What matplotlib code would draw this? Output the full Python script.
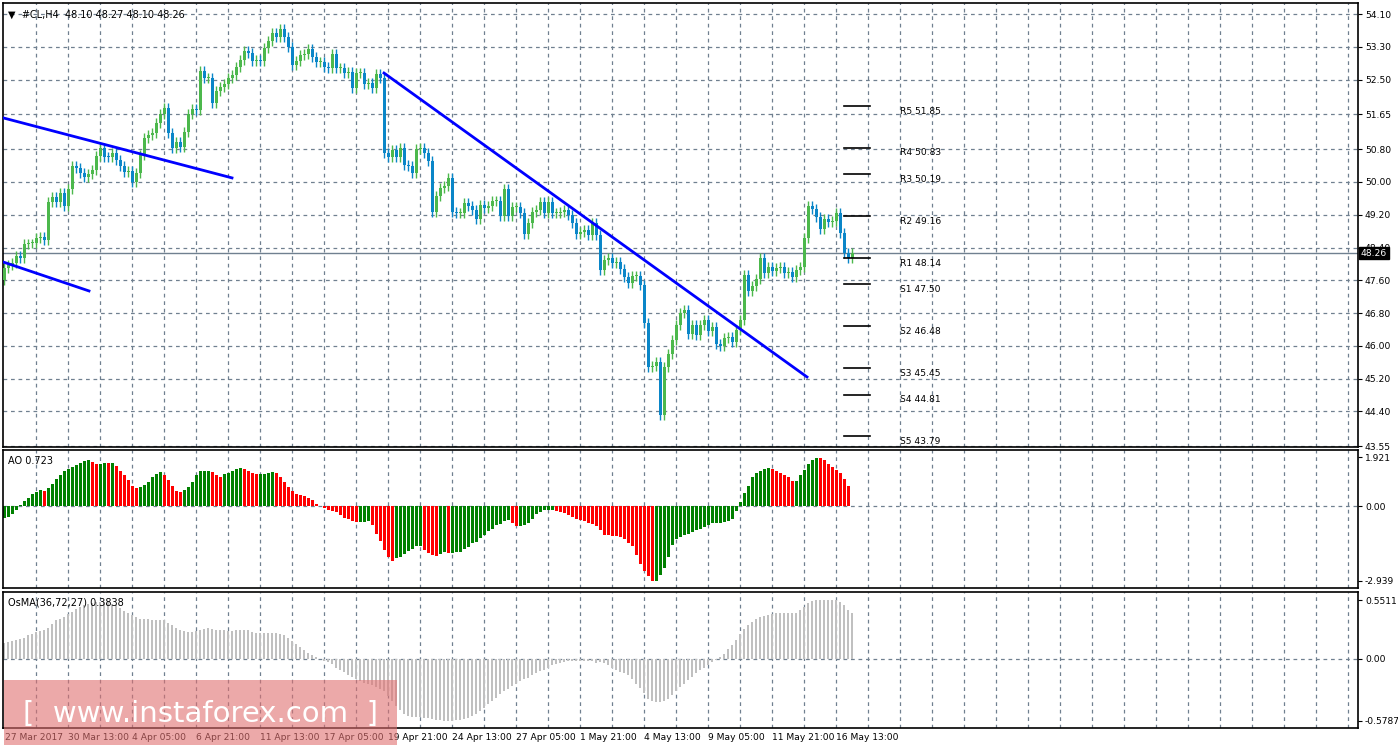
import matplotlib
matplotlib.use("Agg")
import matplotlib.pyplot as plt
import numpy as np
from matplotlib.patches import Rectangle

plt.rcParams['font.family'] = ['DejaVu Sans']

closes = [47.90,47.97,48.02,48.19,48.14,48.48,48.50,48.50,48.63,48.65,48.58,49.51,49.63,49.51,49.73,49.41,49.83,50.39,50.34,50.22,
50.12,50.19,50.29,50.63,50.83,50.61,50.60,50.70,50.53,50.39,50.24,50.27,50.00,50.22,50.66,51.07,51.15,51.20,51.44,51.66,
51.80,51.20,50.83,50.97,50.85,51.22,51.66,51.78,51.76,52.71,52.54,52.54,51.93,52.22,52.32,
52.39,52.54,52.61,52.81,52.98,53.20,53.15,52.95,52.98,52.95,53.27,53.44,53.63,53.54,53.73,53.54,53.29,52.85,52.95,53.10,
53.12,53.24,53.05,52.93,52.93,52.81,52.78,53.12,52.78,52.78,52.66,52.68,52.29,52.66,52.66,52.39,52.42,52.29,52.63,52.54,
50.70,50.61,50.78,50.61,50.83,50.41,50.39,50.22,50.80,50.83,50.71,50.51,
49.26,49.65,49.85,49.90,50.09,49.26,49.24,49.24,49.48,49.41,49.31,49.09,49.44,49.36,49.41,49.53,49.53,49.17,49.83,49.17,
49.39,49.39,49.24,48.73,49.00,49.26,49.31,49.51,49.24,49.51,49.24,49.24,49.26,49.31,49.19,48.99,48.73,48.78,48.83,48.70,
48.99,48.70,47.85,48.09,48.14,48.02,48.04,47.87,47.68,47.53,47.70,47.70,47.48,
46.55,45.48,45.50,45.60,44.31,45.48,45.80,46.14,46.50,46.80,46.87,46.29,46.50,46.26,46.50,46.63,46.36,46.46,46.04,45.99,
46.19,46.21,46.09,46.38,46.63,47.73,47.34,47.46,47.63,48.14,47.78,47.92,47.83,47.90,47.92,47.78,47.80,47.68,47.85,47.92,
48.63,49.41,49.34,49.14,48.85,49.09,49.02,49.04,49.24,48.75,48.26,48.14,48.26]
first_open = 47.60

ao = [-0.48,-0.42,-0.31,-0.16,0.04,0.20,0.33,0.46,0.56,0.63,0.60,0.72,0.88,1.05,1.20,1.36,1.44,1.54,1.62,1.70,
1.76,1.80,1.73,1.65,1.65,1.70,1.67,1.67,1.57,1.39,1.22,1.02,0.80,0.72,0.76,0.84,0.95,1.12,1.25,1.33,
1.20,1.02,0.80,0.60,0.54,0.63,0.76,0.95,1.22,1.37,1.37,1.39,1.33,1.22,1.15,1.25,1.31,1.36,1.44,1.49,
1.44,1.39,1.31,1.25,1.25,1.25,1.28,1.33,1.31,1.15,0.95,0.76,0.59,0.48,
0.43,0.39,0.31,0.24,0.08,0.01,-0.07,-0.16,-0.20,-0.24,-0.35,-0.47,-0.51,-0.59,-0.63,-0.63,-0.63,-0.59,-0.75,-1.10,
-1.36,-1.73,-2.00,-2.16,-2.03,-2.00,-1.88,-1.76,-1.67,-1.57,-1.57,-1.73,-1.84,-1.92,-1.96,-1.88,-1.80,-1.84,-1.84,-1.80,
-1.80,-1.69,-1.61,-1.45,-1.41,-1.25,-1.14,-0.98,-0.90,-0.75,-0.71,-0.59,-0.55,-0.67,-0.78,-0.78,-0.75,-0.67,-0.51,-0.31,
-0.24,-0.16,-0.16,-0.16,-0.20,-0.24,-0.27,-0.35,-0.43,-0.51,-0.55,-0.60,
-0.66,-0.72,-0.79,-0.95,-1.12,-1.14,-1.17,-1.18,-1.21,-1.28,-1.45,-1.58,-1.93,-2.29,-2.55,-2.76,-2.94,-2.94,-2.70,-2.45,
-2.00,-1.54,-1.30,-1.21,-1.14,-1.08,-1.01,-0.95,-0.90,-0.84,-0.75,-0.66,-0.66,-0.66,-0.63,-0.58,-0.50,-0.18,0.16,0.50,0.79,1.12,
1.29,1.36,1.45,1.49,1.45,1.36,1.29,1.20,1.12,1.00,1.00,1.20,1.42,1.66,1.82,1.90,1.88,1.79,1.66,1.55,1.42,1.29,1.07,0.79]

osma = [0.15,0.16,0.17,0.18,0.19,0.20,0.22,0.23,0.25,0.26,0.27,0.29,0.33,0.36,0.37,0.39,0.42,0.44,0.47,0.49,
0.50,0.51,0.52,0.53,0.53,0.53,0.53,0.51,0.50,0.48,0.45,0.43,0.41,0.39,0.37,0.37,0.37,0.36,0.36,0.36,
0.36,0.34,0.32,0.29,0.27,0.26,0.25,0.25,0.26,0.27,0.28,0.29,0.28,0.27,0.27,0.27,0.26,0.26,0.27,0.27,
0.27,0.27,0.25,0.24,0.24,0.24,0.24,0.24,0.24,0.23,0.22,0.20,0.17,0.14,0.11,0.08,0.06,0.04,0.02,0.00,
-0.02,-0.03,-0.05,-0.08,-0.10,-0.12,-0.15,-0.17,-0.19,-0.21,-0.22,-0.23,-0.24,-0.26,-0.28,-0.30,-0.35,-0.39,-0.44,-0.48,
-0.51,-0.53,-0.54,-0.54,-0.54,-0.55,-0.55,-0.56,-0.57,-0.57,-0.58,-0.58,-0.58,-0.57,-0.57,-0.56,-0.55,-0.53,-0.51,-0.49,
-0.46,-0.42,-0.39,-0.36,-0.33,-0.30,-0.28,-0.25,-0.23,-0.21,-0.19,-0.18,-0.15,-0.13,-0.11,-0.10,-0.08,-0.06,-0.05,-0.04,
-0.03,-0.02,-0.02,-0.02,-0.02,-0.02,-0.02,-0.02,-0.04,
-0.03,-0.04,-0.06,-0.08,-0.10,-0.12,-0.13,-0.15,-0.19,-0.23,-0.27,-0.32,-0.37,-0.39,-0.40,-0.40,-0.39,-0.37,-0.34,-0.30,
-0.26,-0.23,-0.20,-0.17,-0.13,-0.10,-0.08,-0.06,-0.03,-0.01,0.02,0.05,0.09,0.13,0.18,0.23,0.28,0.32,0.35,0.37,
0.39,0.40,0.41,0.42,0.43,0.43,0.43,0.43,0.43,0.43,0.46,0.49,0.52,0.54,0.55,0.55,0.55,0.55,0.55,0.55,0.53,0.50,0.46,0.43]

x_labels = ["27 Mar 2017","30 Mar 13:00","4 Apr 05:00","6 Apr 21:00","11 Apr 13:00","17 Apr 05:00",
            "19 Apr 21:00","24 Apr 13:00","27 Apr 05:00","1 May 21:00","4 May 13:00","9 May 05:00",
            "11 May 21:00","16 May 13:00"]
price_ticks = [54.10,53.30,52.50,51.65,50.80,50.00,49.20,48.40,47.60,46.80,46.00,45.20,44.40,43.55]
pivot_names = ["R5","R4","R3","R2","R1","S1","S2","S3","S4","S5"]
pivot_vals = [51.85,50.83,50.19,49.16,48.14,47.50,46.48,45.45,44.81,43.79]
trend_lines = [((0,51.56),(57,50.10)), ((0,48.04),(21.25,47.34)), ((95,52.66),(200.75,45.24))]
last_price = 48.26

W, H = 1398, 749
fig = plt.figure(figsize=(W/100, H/100), dpi=100)
fig.patch.set_facecolor("white")
def rect(x0, y0, x1, y1):
    return [x0/W, 1-y1/H, (x1-x0)/W, (y1-y0)/H]

FS = 6.6
XMAX = (1358-3)/4 - 0.25
ax = fig.add_axes(rect(3, 3, 1358, 447))
ax1 = fig.add_axes(rect(3, 450, 1358, 588))
ax2 = fig.add_axes(rect(3, 592, 1358, 728))
gridc = "#708090"
vgrid = np.arange(8.1, XMAX, 8)
for a in (ax, ax1, ax2):
    a.set_xlim(-0.25, XMAX)
    for v in vgrid:
        a.axvline(v, color=gridc, ls=(0, (3, 3)), lw=0.9, zorder=0)
    a.yaxis.tick_right()
    a.tick_params(axis="y", labelsize=FS, length=3, pad=2, colors="black")
    a.set_xticks([])
    for s in a.spines.values():
        s.set_color("black"); s.set_linewidth(1.2)

ax.set_ylim(43.53, 54.37)
ax.set_yticks(price_ticks)
ax.set_yticklabels([f"{t:.2f}" for t in price_ticks])
for t in price_ticks:
    ax.axhline(t, color=gridc, ls=(0, (3, 3)), lw=0.9, zorder=0)
c = np.array(closes)
o = np.concatenate([[first_open], c[:-1]])
idx = np.arange(len(c))
up = c >= o
colors = np.where(up, "#4cb84c", "#0a86c8")
hi = np.maximum(o, c) + 0.12
lo = np.minimum(o, c) - 0.12
ax.vlines(idx, lo, hi, colors=colors, lw=1, zorder=2)
h = np.abs(c - o); h = np.where(h < 0.03, 0.03, h)
ax.bar(idx, h, bottom=np.minimum(o, c), width=0.75, color=colors, zorder=3)
for (x0, y0), (x1, y1) in trend_lines:
    ax.plot([x0, x1], [y0, y1], color="#0000ff", lw=2, zorder=4)
ax.axhline(last_price, color="#708090", lw=1, zorder=1)
ax.text(1.002, last_price, f"{last_price:.2f}", transform=ax.get_yaxis_transform(), fontsize=FS,
        color="white", va="center", ha="left", bbox=dict(fc="black", ec="black", pad=1.2))
for n, v in zip(pivot_names, pivot_vals):
    ax.plot([210, 216.5], [v, v], color="black", lw=1.2, zorder=4)
    ax.text(224, v - 0.12, f"{n} {v:.2f}", fontsize=FS, va="center", ha="left", color="black")
ax.text(0.004, 0.985, "▼  #CL,H4  48.10 48.27 48.10 48.26", transform=ax.transAxes, fontsize=FS+0.4, va="top")

ax1.set_ylim(-3.22, 2.2)
ax1.set_yticks([1.921, 0.0, -2.939]); ax1.set_yticklabels(["1.921", "0.00", "-2.939"])
ax1.axhline(0, color=gridc, ls=(0, (3, 3)), lw=0.9, zorder=0)
aoa = np.array(ao)
aoc = ["#008000" if i == 0 or aoa[i] >= aoa[i-1] else "#ff0000" for i in range(len(aoa))]
ax1.bar(np.arange(len(aoa)), aoa, width=0.75, color=aoc, zorder=2)
ax1.text(0.004, 0.96, "AO 0.723", transform=ax1.transAxes, fontsize=FS+0.4, va="top")

ax2.set_ylim(-0.645, 0.626)
ax2.set_yticks([0.5511, 0.0, -0.5787]); ax2.set_yticklabels(["0.5511", "0.00", "-0.5787"])
ax2.axhline(0, color=gridc, ls=(0, (3, 3)), lw=0.9, zorder=0)
ax2.bar(np.arange(len(osma)), osma, width=0.6, color="#c0c0c0", zorder=2)
ax2.text(0.004, 0.96, "OsMA(36,72,27) 0.3838", transform=ax2.transAxes, fontsize=FS+0.4, va="top")

for k, lab in enumerate(x_labels):
    xd = 0 if k == 0 else 16.1 + 16*(k-1)
    xp = 3 + xd*4 + (2 if k == 0 else 1)
    fig.text(xp/W, 1-738/H, lab, fontsize=FS, va="center", ha="left")

fig.patches.append(Rectangle((4/W, 1-745/H), 393/W, 65/H, transform=fig.transFigure,
                             facecolor="#e07070", alpha=0.6, edgecolor="none", zorder=10))
fig.text(200/W, 1-714/H, "[  www.instaforex.com  ]", fontsize=21, color="white", ha="center",
         va="center", zorder=11)

fig.savefig("out.png", dpi=100)
